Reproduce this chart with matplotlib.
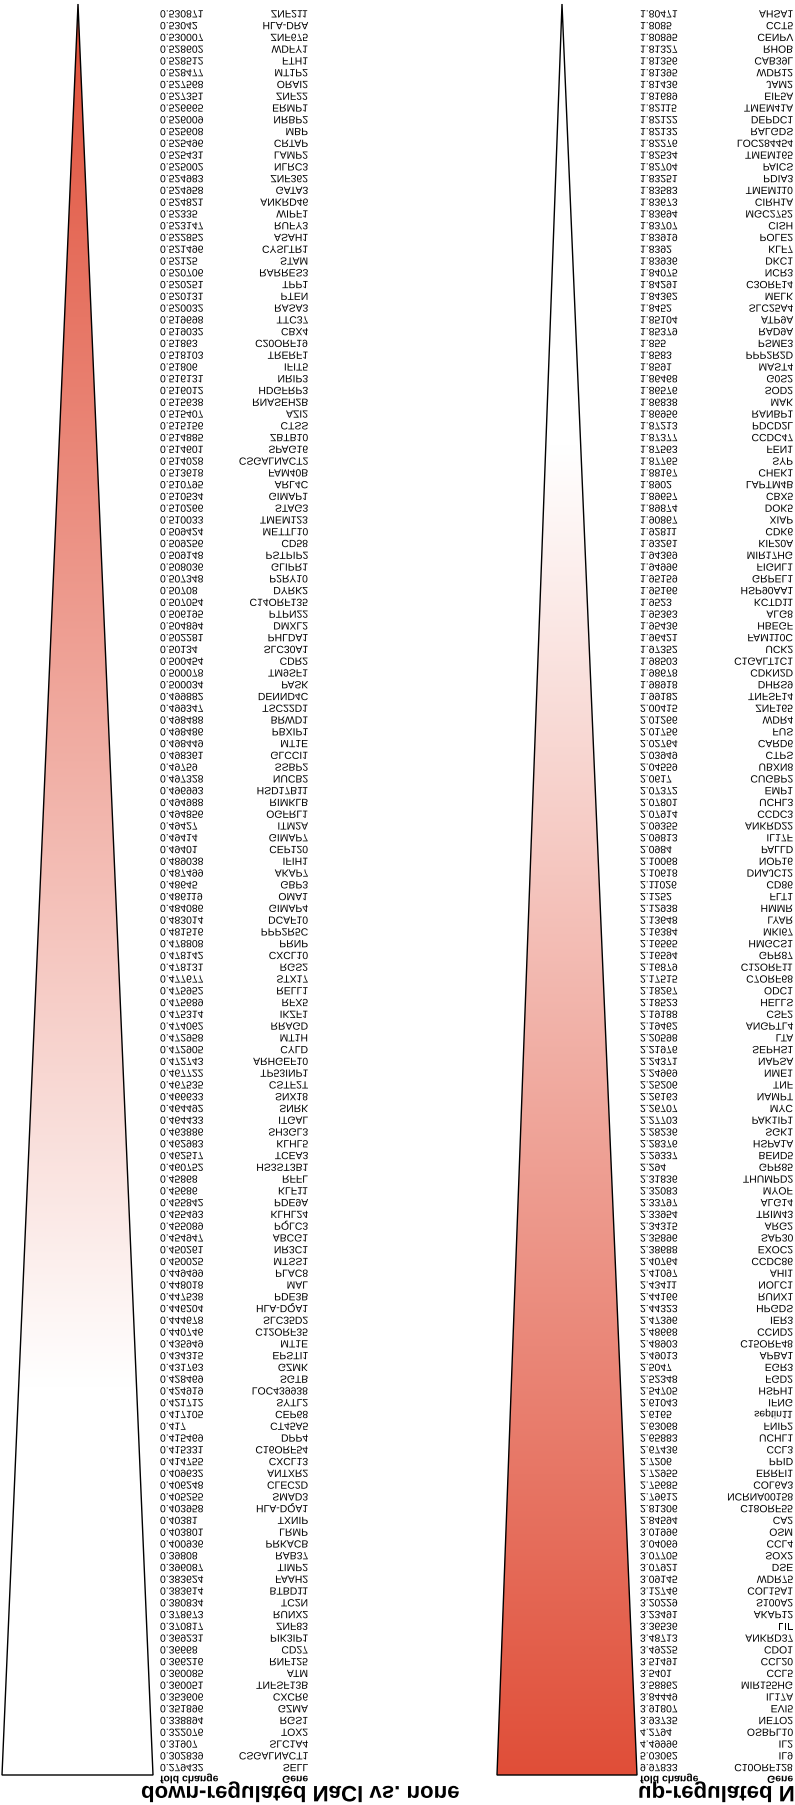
import matplotlib
matplotlib.use("Agg")
import matplotlib.pyplot as plt
import numpy as np
from matplotlib.patches import Polygon
from matplotlib.patheffects import AbstractPathEffect
from matplotlib.transforms import Affine2D

# ---------------- data (rows as they appear from top to bottom) ----------------
down_title = "down-regulated NaCl vs. none"
up_title = "up-regulated NaCl vs. none"
col_gene = "Gene"
col_fc = "fold change"

down_genes = [
    "ZNF211", "HLA-DRA", "ZNF675", "WDFY1", "FTH1", "MT1P2", "ORAI2", "ZNF22", "ERMP1", "NRBP2",
    "MBP", "CRTAP", "LAMP2", "NLRC3", "ZNF362", "GATA3", "ANKRD46", "WIPF1", "RUFY3", "ASAH1",
    "CYSLTR1", "STAM", "RARRES3", "TPP1", "PTEN", "RASA3", "TTC37", "CBX4", "C20ORF19", "TRERF1",
    "IFIT5", "NRIP3", "HDGFRP3", "RNASEH2B", "AZI2", "CTSS", "ZBTB10", "SPAG16", "CSGALNACT2", "FAM40B",
    "ARL4C", "GIMAP1", "STAG3", "TMEM123", "METTL10", "CD58", "PSTPIP2", "GLIPR1", "P2RY10", "DYRK2",
    "C14ORF135", "PTPN22", "DMXL2", "PHLDA1", "SLC30A1", "CDR2", "TM9SF1", "PASK", "DENND4C", "TSC22D1",
    "BRWD1", "PBXIP1", "MT1E", "GLCCI1", "SSBP2", "NUCB2", "HSD17B11", "RIMKLB", "OGFRL1", "ITM2A",
    "GIMAP7", "CEP120", "IFIH1", "AKAP7", "GBP3", "OMA1", "GIMAP4", "DCAF10", "PPP2R5C", "PRNP",
    "CXCL10", "RGS2", "STX17", "RELL1", "RFX5", "IKZF1", "RRAGD", "MT1H", "CYLD", "ARHGEF10",
    "TP53INP1", "CSTF2T", "SNX18", "SNRK", "ITGAL", "SH3GL3", "KLHL5", "TCEA3", "HS3ST3B1", "RFFL",
    "KLF11", "PDE9A", "KLHL24", "PQLC3", "ABCG1", "NR3C1", "MTSS1", "PLAC8", "MAL", "PDE3B",
    "HLA-DQA1", "SLC35D2", "C12ORF35", "MT1E", "EPSTI1", "GZMK", "SGTB", "LOC439938", "SYTL2", "CEP68",
    "CT45A5", "DPP4", "C16ORF54", "CXCL13", "ANTXR2", "CLEC2D", "SMAD3", "HLA-DQA1", "TXNIP", "LRMP",
    "PRKACB", "RAB37", "TIMP2", "FAAH2", "BTBD11", "TC2N", "RUNX2", "ZNF83", "PIK3IP1", "CD27",
    "RNF125", "ATM", "TNFSF13B", "CXCR6", "GZMA", "RGS1", "TOX2", "SLC1A4", "CSGALNACT1", "SELL",
]
down_fc = [
    0.530871, 0.53042, 0.530007, 0.528602, 0.528512, 0.528477, 0.527568, 0.527351, 0.526665, 0.526009,
    0.525608, 0.525496, 0.525431, 0.525002, 0.524983, 0.524958, 0.524821, 0.52335, 0.523147, 0.522852,
    0.521496, 0.52125, 0.520706, 0.520251, 0.520131, 0.520032, 0.519698, 0.519032, 0.51863, 0.518103,
    0.51806, 0.516131, 0.516012, 0.515638, 0.515407, 0.515156, 0.514885, 0.514601, 0.514028, 0.513618,
    0.510795, 0.510534, 0.510266, 0.510033, 0.509424, 0.509256, 0.509148, 0.508036, 0.507348, 0.50708,
    0.507054, 0.506195, 0.504894, 0.502281, 0.50134, 0.500454, 0.500078, 0.500034, 0.499882, 0.499347,
    0.498488, 0.498486, 0.498449, 0.498361, 0.49759, 0.497328, 0.496993, 0.494988, 0.494856, 0.49427,
    0.49414, 0.49401, 0.489038, 0.487499, 0.48645, 0.486119, 0.484086, 0.483014, 0.481516, 0.478808,
    0.478142, 0.478131, 0.477677, 0.475952, 0.475689, 0.475314, 0.474062, 0.472958, 0.472905, 0.472743,
    0.467722, 0.467535, 0.466633, 0.464492, 0.464433, 0.463886, 0.462983, 0.462517, 0.460752, 0.45868,
    0.45686, 0.455842, 0.455493, 0.455089, 0.454947, 0.450261, 0.450025, 0.449499, 0.448018, 0.447538,
    0.446204, 0.444678, 0.440746, 0.435949, 0.434315, 0.431763, 0.428469, 0.424919, 0.421712, 0.417105,
    0.417, 0.415469, 0.415331, 0.414755, 0.409632, 0.406248, 0.405255, 0.403958, 0.40381, 0.403801,
    0.400936, 0.39808, 0.396087, 0.383624, 0.383614, 0.380834, 0.378673, 0.370817, 0.369231, 0.36668,
    0.366216, 0.360085, 0.360051, 0.353606, 0.351896, 0.338894, 0.322076, 0.31907, 0.302839, 0.279432,
]

up_genes = [
    "AHSA1", "CCT5", "CENPV", "RHOB", "CAB39L", "WDR12", "JAM2", "EIF5A", "TMEM41A", "DEPDC1",
    "RALGDS", "LOC284454", "TMEM165", "PAICS", "PDIA3", "TMEM110", "CIRH1A", "MGC2752", "CISH", "POLE2",
    "KLF7", "DKC1", "NCR3", "C3ORF14", "MELK", "SLC25A4", "ATP9A", "RAD9A", "PSME3", "PPP2R2D",
    "MAST4", "G0S2", "SOD2", "MAK", "RANBP1", "PDCD2L", "CCDC47", "FEN1", "SYP", "CHEK1",
    "LAPTM4B", "CBX5", "DOK5", "XIAP", "CDK6", "KIF20A", "MIR17HG", "FIGNL1", "GRPEL1", "HSP90AA1",
    "KCTD11", "ALG8", "HBEGF", "FAM110C", "UCK2", "C1GALT1C1", "CDKN2D", "DHRS9", "TNFSF14", "ZNF165",
    "WDR4", "FUS", "CARD6", "CTPS", "UBXN8", "CUGBP2", "EMP1", "UCHL3", "CCDC3", "ANKRD22",
    "IL17F", "PALLD", "NOP16", "DNAJC12", "CD86", "FLT1", "HMMR", "LYAR", "MKI67", "HMGCS1",
    "GPR87", "C12ORF11", "C7ORF68", "ODC1", "HELLS", "CSF2", "ANGPTL4", "LTA", "SEPHS1", "NAPSA",
    "NME1", "TNF", "NAMPT", "MYC", "PAK1IP1", "SGK1", "HSPA1A", "BEND5", "GPR85", "THUMPD2",
    "MYOF", "ALG14", "TRIM43", "ARG2", "SAP30", "EXOC2", "CCDC86", "AHI1", "NOLC1", "RUNX1",
    "HPGDS", "IER3", "CCND2", "C15ORF48", "APBA1", "EGR3", "FGD2", "HSPH1", "IFNG", "septin11",
    "FNIP2", "UCHL1", "CCL3", "PPID", "ERRFI1", "COL6A3", "NCRNA00158", "C18ORF55", "CA2", "OSM",
    "CCL4", "SOX2", "DSE", "WDR75", "COL15A1", "S100A2", "AKAP12", "LIF", "ANKRD37", "CDO1",
    "CCL20", "CCL5", "MIR155HG", "IL17A", "EVI5", "NETO2", "OSBPL10", "IL2", "IL9", "C10ORF128",
]
up_fc = [
    1.80471, 1.8085, 1.80895, 1.81327, 1.81356, 1.81395, 1.81436, 1.81689, 1.82115, 1.82122,
    1.82132, 1.82276, 1.82534, 1.82704, 1.83251, 1.83583, 1.83673, 1.83694, 1.83707, 1.83919,
    1.8392, 1.83936, 1.84075, 1.84291, 1.84362, 1.8452, 1.85104, 1.85379, 1.855, 1.8583,
    1.8591, 1.86468, 1.86576, 1.86838, 1.86956, 1.87213, 1.87377, 1.87563, 1.87765, 1.88167,
    1.8902, 1.89657, 1.89874, 1.90867, 1.92811, 1.93261, 1.94369, 1.94996, 1.95159, 1.95166,
    1.9523, 1.95363, 1.95436, 1.96421, 1.97352, 1.98503, 1.98678, 1.98918, 1.99182, 2.00415,
    2.01266, 2.01756, 2.02764, 2.03949, 2.04559, 2.0617, 2.07372, 2.07801, 2.07914, 2.09355,
    2.09813, 2.0984, 2.10068, 2.10618, 2.11026, 2.1252, 2.12938, 2.13648, 2.16384, 2.16565,
    2.16594, 2.16879, 2.17515, 2.18267, 2.18523, 2.19188, 2.19462, 2.20598, 2.21976, 2.24371,
    2.24969, 2.25206, 2.26163, 2.26707, 2.27703, 2.28236, 2.28376, 2.29337, 2.294, 2.31836,
    2.32083, 2.33797, 2.33954, 2.34315, 2.35896, 2.38688, 2.40764, 2.41097, 2.43411, 2.44166,
    2.44323, 2.47396, 2.48668, 2.48903, 2.49013, 2.5047, 2.52348, 2.54705, 2.61043, 2.6165,
    2.63068, 2.65883, 2.67436, 2.7206, 2.72955, 2.75685, 2.79612, 2.81306, 2.84594, 3.01996,
    3.04069, 3.07705, 3.07921, 3.09145, 3.12746, 3.20229, 3.23491, 3.36536, 3.48713, 3.49225,
    3.51491, 3.5401, 3.58862, 3.84449, 3.91807, 3.93735, 4.2794, 4.49996, 5.03062, 9.97833,
]


# ---------------- helpers ----------------
class VFlip(AbstractPathEffect):
    """Mirror glyphs vertically about the middle of the cap height."""
    def __init__(self, c=71.6):
        super().__init__()
        self._flip = Affine2D().scale(1, -1).translate(0, c)

    def draw_path(self, renderer, gc, tpath, affine, rgbFace=None):
        renderer.draw_path(gc, tpath, self._flip + affine, rgbFace)


W, H = 795, 1806
DPI = 100
FONT = "Liberation Sans"
RED = np.array([224, 78, 56]) / 255.0
WHITE = np.array([1.0, 1.0, 1.0])

fig = plt.figure(figsize=(W / DPI, H / DPI), dpi=DPI)
ax = fig.add_axes([0, 0, 1, 1])

ROW0 = 15.0
PITCH = 11.77
FS = 7.5


def ftext(x, yc, s, size=FS, weight="normal", ha="left"):
    cap = 0.716 * size * DPI / 72.0
    ax.text(x, yc + cap / 2.0, s, fontsize=size, fontweight=weight, family=FONT,
            ha=ha, va="baseline", color="black", path_effects=[VFlip()], zorder=5)


def grad_triangle(apex, bl, br, red_at_top):
    verts = [apex, br, bl]
    poly = Polygon(verts, closed=True, facecolor="none", edgecolor="black", lw=1.0, zorder=4)
    ax.add_patch(poly)
    y0, y1 = apex[1], bl[1]
    t = np.linspace(0, 1, 600)
    if red_at_top:
        a = np.interp(t, [0.0, 0.78, 1.0], [1.0, 0.0, 0.0])
    else:
        a = np.interp(t, [0.0, 0.25, 1.0], [0.0, 0.0, 1.0])
    cols = WHITE[None, :] * (1 - a[:, None]) + RED[None, :] * a[:, None]
    img = np.repeat(cols[:, None, :], 2, axis=1)
    im = ax.imshow(img, extent=[bl[0], br[0], y1, y0], aspect="auto",
                   interpolation="bilinear", zorder=2)
    im.set_clip_path(poly)


def panel(genes, fcs, tri_x0, tri_x1, apex_x, val_x, gene_x, title_x, title, red_at_top):
    grad_triangle((apex_x, 5.0), (tri_x0, 1776.0), (tri_x1, 1776.0), red_at_top)
    for i, (g, v) in enumerate(zip(genes, fcs)):
        yc = ROW0 + PITCH * i
        ftext(val_x, yc, f"{v:.6g}")
        ftext(gene_x, yc, g, ha="right")
    hy = ROW0 + PITCH * len(genes)
    ftext(val_x, hy, col_fc, weight="bold")
    ftext(gene_x, hy, col_gene, weight="bold", ha="right")
    ftext(title_x, 1795.0, title, size=16, weight="bold")


panel(down_genes, down_fc, 2, 153, 78, 160, 308, 141, down_title, True)
panel(up_genes, up_fc, 497, 637, 562, 640, 793, 638, up_title, False)

ax.set_xlim(0, W)
ax.set_ylim(H, 0)
ax.axis("off")
fig.savefig("out.png", dpi=DPI, facecolor="white")
